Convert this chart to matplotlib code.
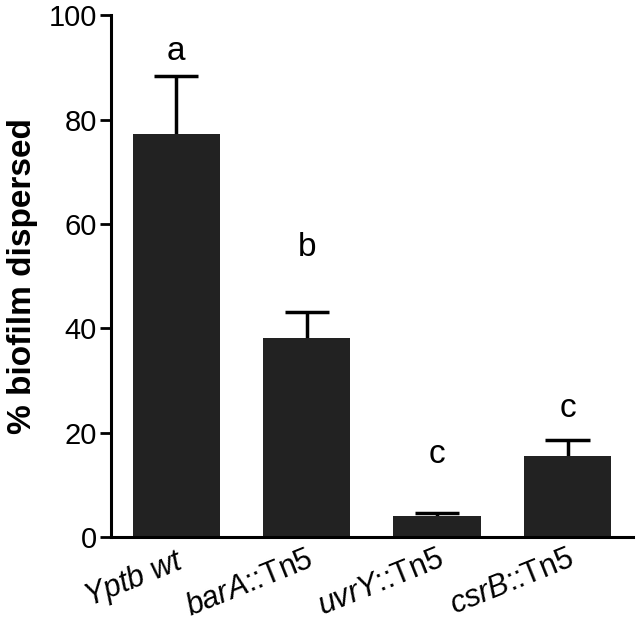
import matplotlib
matplotlib.use('Agg')
import matplotlib.pyplot as plt
import numpy as np

plt.rcParams['font.family'] = 'Liberation Sans'
plt.rcParams['mathtext.fontset'] = 'custom'
plt.rcParams['mathtext.it'] = 'Liberation Sans:italic'
plt.rcParams['mathtext.rm'] = 'Liberation Sans'

# data
strains = [r'$\it{Yptb}$ $\it{wt}$', r'$\it{barA}$::Tn5', r'$\it{uvrY}$::Tn5', r'$\it{csrB}$::Tn5']
dispersed = [77.2, 38.2, 4.1, 15.6]
sem = [11.1, 4.9, 0.4, 2.9]
letters = ['a', 'b', 'c', 'c']
letter_y = [93.0, 55.5, 15.8, 24.7]

fig = plt.figure(figsize=(6.38, 6.31), dpi=100)
ax = fig.add_axes([0.174, 0.149, 0.818, 0.827])

x = np.arange(len(strains))
tops = np.array(dispersed) + np.array(sem)

# upper error bars only
ax.vlines(x, dispersed, tops, color='black', linewidth=2.5, zorder=1)
ax.hlines(tops, x - 0.17, x + 0.17, color='black', linewidth=2.5, zorder=1)
ax.bar(x, dispersed, width=0.67, color='#222222', zorder=2)

# significance letters
for xi, lab, ly in zip(x, letters, letter_y):
    ax.text(xi, ly, lab, ha='center', va='center', fontsize=24)

ax.set_xlim(-0.5, 3.5)
ax.set_ylim(0, 100)
ax.set_yticks([0, 20, 40, 60, 80, 100])
ax.set_xticks(x)
ax.set_xticklabels(strains, rotation=22, ha='right', rotation_mode='anchor', fontsize=22)
ax.tick_params(axis='y', labelsize=21, width=2, length=8, pad=2)
ax.tick_params(axis='x', length=0, pad=5)
ax.set_ylabel('% biofilm dispersed', fontsize=24, fontweight='bold', labelpad=8)

for s in ['top', 'right']:
    ax.spines[s].set_visible(False)
for s in ['left', 'bottom']:
    ax.spines[s].set_linewidth(2.2)

fig.savefig('out.png', dpi=100)
